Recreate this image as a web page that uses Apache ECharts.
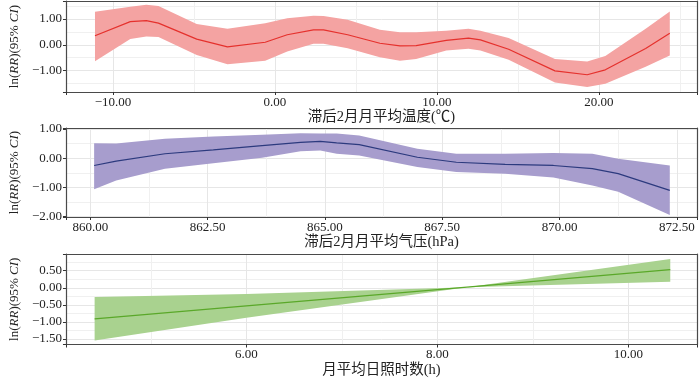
<!DOCTYPE html>
<html>
<head>
<meta charset="utf-8">
<script src="https://cdn.jsdelivr.net/npm/echarts@6/dist/echarts.min.js"></script>
<style>
  html, body { margin: 0; padding: 0; background: #fff; }
  #main { width: 700px; height: 378px; }
</style>
</head>
<body>
<div id="main"></div>
<script>
// 滞后2月月平均温度
const tempX = [-11.11, -8.93, -7.94, -7.19, -4.83, -2.93, -0.60, 0.76, 2.38, 3.00, 4.49, 6.48, 7.72, 8.72, 10.58, 11.95, 12.69, 14.43, 17.29, 19.28, 20.40, 22.89, 24.38]
const tempFit = [0.35, 0.90, 0.94, 0.84, 0.22, -0.08, 0.10, 0.39, 0.58, 0.58, 0.39, 0.06, -0.04, -0.03, 0.17, 0.26, 0.19, -0.17, -1.01, -1.16, -0.97, -0.14, 0.45]
const tempHi = [1.28, 1.48, 1.55, 1.51, 0.81, 0.62, 0.84, 1.03, 1.13, 1.12, 0.97, 0.58, 0.49, 0.49, 0.55, 0.62, 0.55, 0.26, -0.55, -0.65, -0.43, 0.62, 1.29]
const tempLo = [-0.64, 0.23, 0.32, 0.30, -0.39, -0.75, -0.62, -0.26, 0.04, 0.04, -0.13, -0.48, -0.62, -0.55, -0.22, -0.15, -0.22, -0.58, -1.46, -1.64, -1.51, -0.85, -0.41]

// 滞后2月月平均气压
const presX = [860.08, 860.55, 861.59, 862.62, 863.66, 864.48, 864.90, 865.25, 865.73, 866.97, 867.80, 868.84, 869.87, 870.70, 871.25, 872.35]
const presFit = [-0.25, -0.10, 0.15, 0.28, 0.43, 0.54, 0.57, 0.52, 0.46, 0.03, -0.14, -0.21, -0.25, -0.36, -0.53, -1.10]
const presHi = [0.51, 0.50, 0.66, 0.74, 0.80, 0.85, 0.84, 0.84, 0.77, 0.32, 0.15, 0.15, 0.18, 0.15, -0.02, -0.25]
const presLo = [-1.06, -0.76, -0.36, -0.17, 0.01, 0.24, 0.26, 0.15, 0.09, -0.30, -0.47, -0.53, -0.66, -0.93, -1.15, -1.94]

// 月平均日照时数
const sunX = [4.41, 6.00, 8.31, 10.44]
const sunFit = [-0.91, -0.53, 0.02, 0.53]
const sunHi = [-0.27, -0.18, 0.02, 0.84]
const sunLo = [-1.54, -0.88, 0.02, 0.18]

const xNames = ['滞后2月月平均温度(℃)', '滞后2月月平均气压(hPa)', '月平均日照时数(h)']
const yName = 'ln({i|RR})(95% {i|CI})'

const serif = "'Liberation Serif', 'DejaVu Serif', serif"
const cjk = "'Liberation Serif', 'Noto Sans CJK SC', serif"
const border = { show: true, onZero: false, lineStyle: { color: '#4a4a4a', width: 1.2 } }

const panels = [
  { xs: tempX, fit: tempFit, hi: tempHi, lo: tempLo, xStep: 10, yStep: 1,
    xMin: -12.9, xMax: 26.06, yMin: -1.83, yMax: 1.70,
    top: 1, height: 91, gap: 17, band: '#f4a3a2', line: '#e5312d' },
  { xs: presX, fit: presFit, hi: presHi, lo: presLo, xStep: 2.5, yStep: 1,
    xMin: 859.48, xMax: 872.93, yMin: -2.01, yMax: 1.03,
    top: 128, height: 89, gap: 17, band: '#a79dcd', line: '#2c3a7e' },
  { xs: sunX, fit: sunFit, hi: sunHi, lo: sunLo, xStep: 2, yStep: 0.5,
    xMin: 4.11, xMax: 10.72, yMin: -1.66, yMax: 0.99,
    top: 254, height: 92, gap: 18, band: '#a9d28f', line: '#5aa829' }
]

function fmt (step) {
  return function (v) {
    const r = v / step
    if (Math.abs(r - Math.round(r)) > 1e-6) return ''
    return v.toFixed(2).replace('-', '−')
  }
}

// plain axis used only to draw the top / right frame of a panel
function frameAxis (i, position, min, max) {
  return {
    type: 'value', gridIndex: i, position: position, min: min, max: max,
    axisLine: border, axisTick: { show: false }, axisLabel: { show: false },
    splitLine: { show: false }
  }
}

const grid = []
const xAxis = []
const yAxis = []
const series = []

panels.forEach(function (p, i) {
  grid.push({ left: 47, right: 2, top: p.top, height: p.height, show: false })
  xAxis.push({
    type: 'value', gridIndex: i, min: p.xMin, max: p.xMax,
    minInterval: p.xStep, maxInterval: p.xStep,
    name: xNames[i], nameLocation: 'middle', nameGap: p.gap,
    nameTextStyle: { fontFamily: cjk, fontSize: 14.5, color: '#222' },
    axisLine: border,
    axisTick: { show: true, length: 3, lineStyle: { color: '#333' } },
    axisLabel: { margin: 4, fontFamily: serif, fontSize: 13, color: '#222', formatter: fmt(p.xStep) },
    splitLine: { show: true, showMinLine: false, showMaxLine: false, lineStyle: { color: '#e6e6e6', width: 1 } },
    minorTick: { show: false, splitNumber: 2 },
    minorSplitLine: { show: true, lineStyle: { color: '#f0f0f0', width: 1 } }
  })
  yAxis.push({
    type: 'value', gridIndex: i, min: p.yMin, max: p.yMax,
    minInterval: p.yStep, maxInterval: p.yStep,
    name: yName, nameLocation: 'middle', nameGap: 41,
    nameTextStyle: {
      fontFamily: serif, fontSize: 13, color: '#222',
      rich: { i: { fontFamily: serif, fontSize: 13, fontStyle: 'italic', color: '#222' } }
    },
    axisLine: border,
    axisTick: { show: true, length: 3, lineStyle: { color: '#333' } },
    axisLabel: { margin: 4, fontFamily: serif, fontSize: 13, color: '#222', formatter: fmt(p.yStep) },
    splitLine: { show: true, showMinLine: false, showMaxLine: false, lineStyle: { color: '#e6e6e6', width: 1 } },
    minorTick: { show: false, splitNumber: 2 },
    minorSplitLine: { show: true, lineStyle: { color: '#f0f0f0', width: 1 } }
  })
  series.push({
    type: 'custom', xAxisIndex: i, yAxisIndex: i, silent: true, z: 2,
    data: p.xs.map(function (x, k) { return [x, p.lo[k], p.hi[k]] }),
    encode: { x: 0, y: [1, 2] },
    renderItem: function (params, api) {
      if (params.dataIndex !== 0) return null
      const pts = []
      for (let k = 0; k < p.xs.length; k++) pts.push(api.coord([p.xs[k], p.hi[k]]))
      for (let k = p.xs.length - 1; k >= 0; k--) pts.push(api.coord([p.xs[k], p.lo[k]]))
      return { type: 'polygon', shape: { points: pts }, style: { fill: p.band } }
    }
  })
  series.push({
    type: 'line', xAxisIndex: i, yAxisIndex: i, silent: true, z: 3,
    data: p.xs.map(function (x, k) { return [x, p.fit[k]] }),
    showSymbol: false, smooth: false,
    lineStyle: { color: p.line, width: 1.2 }
  })
})

// frame axes come after the data axes so the indices above stay 0..2
panels.forEach(function (p, i) {
  xAxis.push(frameAxis(i, 'top', p.xMin, p.xMax))
  yAxis.push(frameAxis(i, 'right', p.yMin, p.yMax))
})

const chart = echarts.init(document.getElementById('main'), null, { renderer: 'canvas' })
chart.setOption({ animation: false, grid: grid, xAxis: xAxis, yAxis: yAxis, series: series })
</script>
</body>
</html>
